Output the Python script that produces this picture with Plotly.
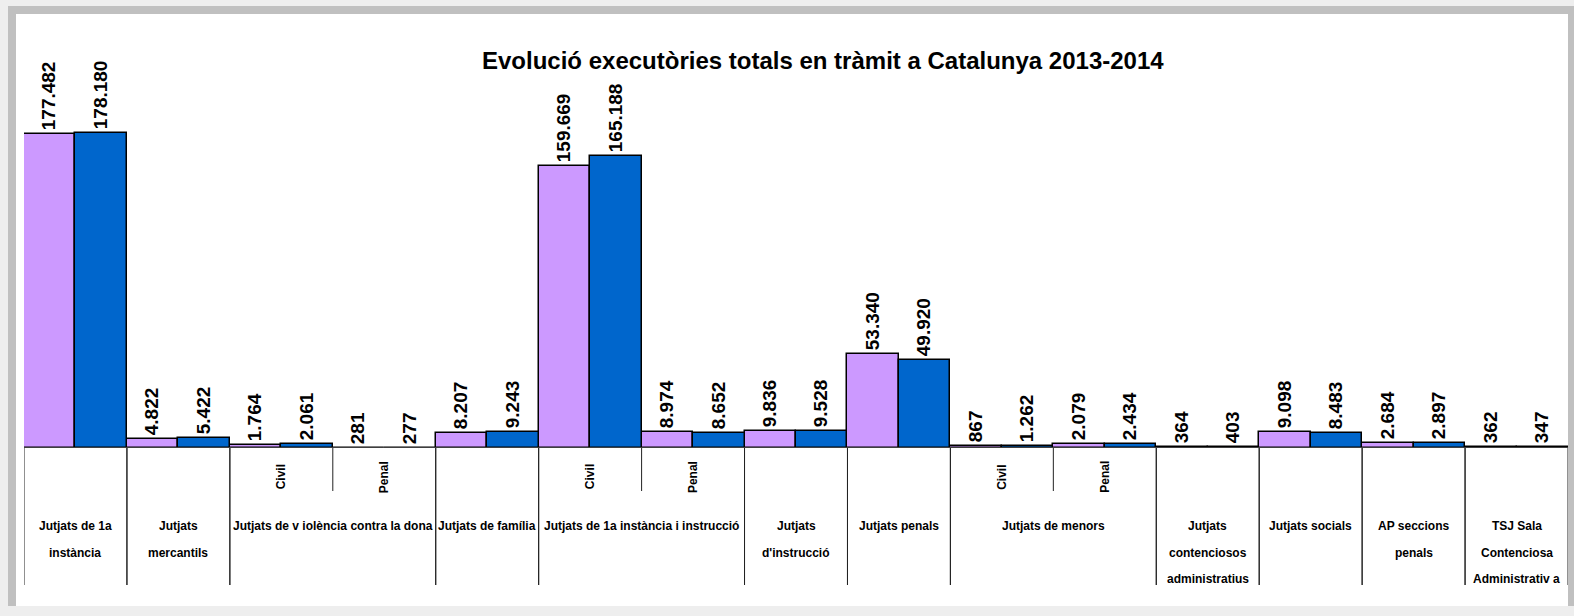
import plotly.graph_objects as go

# valors 2013 i 2014 per jurisdicció (15 columnes)
slots = list(range(15))
vals_2013 = [177482, 4822, 1764, 281, 8207, 159669, 8974, 9836, 53340, 867, 2079, 364, 9098, 2684, 362]
vals_2014 = [178180, 5422, 2061, 277, 9243, 165188, 8652, 9528, 49920, 1262, 2434, 403, 8483, 2897, 347]

# etiquetes de grup: (línies, primera columna, última columna)
group_labels = [
    ["Jutjats de 1a", "instància"],
    ["Jutjats", "mercantils"],
    ["Jutjats de v iolència contra la dona"],
    ["Jutjats de família"],
    ["Jutjats de 1a instància i instrucció"],
    ["Jutjats", "d'instrucció"],
    ["Jutjats penals"],
    ["Jutjats de menors"],
    ["Jutjats", "contenciosos", "administratius"],
    ["Jutjats socials"],
    ["AP seccions", "penals"],
    ["TSJ Sala", "Contenciosa", "Administrativ a"],
]
group_first = [0, 1, 2, 4, 5, 7, 8, 9, 11, 12, 13, 14]
group_last = [0, 1, 3, 4, 6, 7, 8, 10, 11, 12, 13, 14]

sub_slots = [2, 3, 5, 6, 9, 10]
sub_labels = ["Civil", "Penal", "Civil", "Penal", "Civil", "Penal"]

title = "Evolució executòries totals en tràmit a Catalunya 2013-2014"

FONT = "Liberation Sans, Arial, sans-serif"
W, H = 1574, 616
L, R, T, B = 24, 6, 20, 168
BASE = H - B  # pixel de la línia base
PH = BASE - T


def py(p):
    return (BASE - p) / PH


def px_(p):
    return (p - L) / (W - L - R)


fig = go.Figure()
fig.add_bar(x=slots, y=vals_2013, name="2013",
            marker=dict(color="#cc99ff", line=dict(color="black", width=1.5)))
fig.add_bar(x=slots, y=vals_2014, name="2014",
            marker=dict(color="#0066cc", line=dict(color="black", width=1.5)))
fig.update_traces(texttemplate="%{y:,}", textposition="outside", textangle=-90,
                  textfont=dict(family=FONT, size=19, color="black", weight="bold"),
                  cliponaxis=False, constraintext="none")

shapes = [
    # fons del panell
    dict(type="rect", xref="paper", yref="paper", x0=px_(8), x1=px_(W), y0=py(606), y1=py(6),
         fillcolor="#c0c0c0", line_width=0, layer="below"),
    dict(type="rect", xref="paper", yref="paper", x0=px_(16), x1=px_(1568), y0=py(606), y1=py(14),
         fillcolor="white", line_width=0, layer="below"),
    dict(type="line", xref="x", yref="y", x0=-0.5, x1=14.5, y0=0, y1=0,
         line=dict(color="#555555", width=1.5)),
]
annotations = []

# línies verticals de l'eix de categories
for g0, g1 in zip(group_first, group_last):
    for edge in (g0 - 0.5, g1 + 0.5):
        shapes.append(dict(type="line", xref="x", yref="paper", x0=edge, x1=edge,
                           y0=py(BASE), y1=py(585), line=dict(color="#222222", width=1)))
    if g1 > g0:
        shapes.append(dict(type="line", xref="x", yref="paper", x0=g0 + 0.5, x1=g0 + 0.5,
                           y0=py(BASE), y1=py(491), line=dict(color="#222222", width=1)))

line_y = [526, 552.5, 579]
for lines, g0, g1 in zip(group_labels, group_first, group_last):
    for i, txt in enumerate(lines):
        annotations.append(dict(x=(g0 + g1) / 2, y=py(line_y[i]), xref="x", yref="paper",
                                text="<b>" + txt + "</b>", showarrow=False,
                                font=dict(family=FONT, size=12, color="black"),
                                xanchor="center", yanchor="middle"))

for s, txt in zip(sub_slots, sub_labels):
    annotations.append(dict(x=s, y=py(477), xref="x", yref="paper", text="<b>" + txt + "</b>",
                            showarrow=False, textangle=-90,
                            font=dict(family=FONT, size=12, color="black"),
                            xanchor="center", yanchor="middle"))

annotations.append(dict(x=px_(823), y=py(60), xref="paper", yref="paper",
                        text="<b>" + title + "</b>", showarrow=False,
                        font=dict(family=FONT, size=24, color="black"),
                        xanchor="center", yanchor="middle"))

fig.update_layout(
    width=W, height=H,
    margin=dict(l=L, r=R, t=T, b=B),
    paper_bgcolor="#eeeeee", plot_bgcolor="rgba(0,0,0,0)",
    barmode="group", bargap=0, bargroupgap=0,
    separators=",.",
    showlegend=False,
    shapes=shapes, annotations=annotations,
    font=dict(family=FONT),
)
fig.update_xaxes(range=[-0.5, 14.5], visible=False, fixedrange=True)
fig.update_yaxes(range=[0, PH * 565.7], visible=False, fixedrange=True)

fig.write_html("out.html", config={"displayModeBar": False},
               post_script="document.body.style.margin='0';")
